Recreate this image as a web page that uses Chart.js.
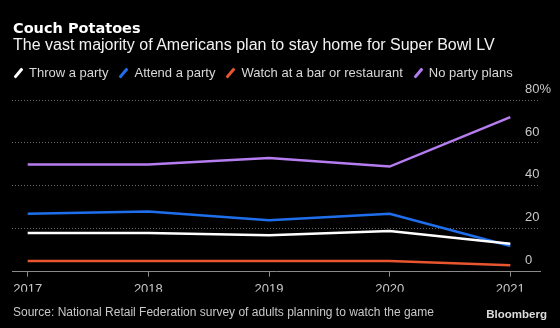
<!DOCTYPE html>
<html>
<head>
<meta charset="utf-8">
<script src="https://cdn.jsdelivr.net/npm/chart.js@4"></script>
<style>
  html, body { margin: 0; padding: 0; background: #000; }
  #wrap { position: relative; width: 560px; height: 328px; overflow: hidden; }
  #wrap canvas { position: absolute; left: 0; top: 0; }
  .txt { position: absolute; white-space: nowrap; font-family: "Liberation Sans", Arial, sans-serif; }
  #title { left: 13px; top: 20px; font: bold 14.5px/16px "DejaVu Sans", sans-serif; color: #fff; }
  #subtitle { left: 13px; top: 36px; font-size: 16px; line-height: 18px; color: #f2f2f2; }
  #legend { left: 13px; top: 65px; font-size: 13px; line-height: 15px; color: #d9d9d9; display: flex; }
  #legend .item { display: flex; align-items: center; margin-right: 10px; }
  #legend .mark { position: relative; width: 10px; height: 15px; margin-right: 6px; }
  #legend .mark span { position: absolute; left: 4px; top: 2px; width: 2.8px; height: 12px; transform: rotate(40deg); border-radius: 1px; }
  #source { left: 13px; top: 305px; font-size: 12px; line-height: 14px; color: #c8c8c8; }
  #brand { right: 13px; top: 308px; font-size: 11.5px; line-height: 13px; font-weight: bold; color: #dcdcdc; }
</style>
</head>
<body>
<div id="wrap">
  <canvas id="chart" width="560" height="328"></canvas>
  <div class="txt" id="title">Couch Potatoes</div>
  <div class="txt" id="subtitle">The vast majority of Americans plan to stay home for Super Bowl LV</div>
  <div class="txt" id="legend"></div>
  <div class="txt" id="source">Source: National Retail Federation survey of adults planning to watch the game</div>
  <div class="txt" id="brand">Bloomberg</div>
</div>
<script>
// share of respondents, %
const years = [2017, 2018, 2019, 2020, 2021];
const throwParty = [18, 18, 17, 19, 13];
const attendParty = [27, 28, 24, 27, 12];
const watchBar = [5, 5, 5, 5, 3];
const noPlans = [50, 50, 53, 49, 72];
const yTicks = [0, 20, 40, 60, 80];

const seriesNames = ['Throw a party', 'Attend a party', 'Watch at a bar or restaurant', 'No party plans'];
const seriesColors = ['#ffffff', '#1f6fec', '#e8552f', '#b67df0'];
const seriesValues = [throwParty, attendParty, watchBar, noPlans];

// legend built by hand so the slash markers sit like the original
const legend = document.getElementById('legend');
seriesNames.forEach((name, i) => {
  let item = document.createElement('div');
  item.className = 'item';
  let mark = document.createElement('div');
  mark.className = 'mark';
  let bar = document.createElement('span');
  bar.style.background = seriesColors[i];
  mark.appendChild(bar);
  item.appendChild(mark);
  item.appendChild(document.createTextNode(name));
  legend.appendChild(item);
});

const datasets = seriesNames.map((name, i) => ({
  label: name,
  data: years.map((y, j) => ({ x: y, y: seriesValues[i][j] })),
  borderColor: seriesColors[i],
  backgroundColor: seriesColors[i],
  borderWidth: 2.5,
  pointRadius: 0,
  pointHoverRadius: 0,
  tension: 0
}));

// white drawn over blue
datasets[0].order = 1;
datasets[1].order = 2;

new Chart(document.getElementById('chart'), {
  type: 'line',
  data: { datasets: datasets },
  options: {
    responsive: false,
    animation: false,
    events: [],
    layout: { padding: { left: 12, top: 100, right: 0, bottom: 36.3 } },
    plugins: { legend: { display: false }, tooltip: { enabled: false } },
    scales: {
      x: {
        type: 'linear',
        min: 2016.87,
        max: 2021.246,
        afterFit: (s) => { s.height = 20; },
        afterBuildTicks: (s) => { s.ticks = years.map(v => ({ value: v })); },
        grid: { drawOnChartArea: false, drawTicks: true, tickLength: 5, color: '#8a8a8a' },
        border: { display: true, color: '#8a8a8a', width: 1 },
        ticks: {
          color: '#c8c8c8',
          font: { family: 'Liberation Sans', size: 13 },
          padding: 5,
          maxRotation: 0,
          callback: (v) => String(v)
        }
      },
      y: {
        position: 'right',
        min: 0,
        max: 80,
        afterFit: (s) => { s.width = 20; },
        afterBuildTicks: (s) => { s.ticks = yTicks.map(v => ({ value: v })); },
        grid: {
          drawTicks: false,
          color: (ctx) => ctx.tick && ctx.tick.value === 0 ? 'rgba(0,0,0,0)' : '#6a6a6a',
          lineWidth: 1
        },
        border: { display: false, dash: [1, 2] },
        ticks: {
          mirror: true,
          crossAlign: 'far',
          color: '#c8c8c8',
          font: { family: 'Liberation Sans', size: 13 },
          padding: 11,
          labelOffset: -11,
          callback: (v) => v === 80 ? '80%' : String(v)
        }
      }
    }
  }
});
</script>
</body>
</html>
